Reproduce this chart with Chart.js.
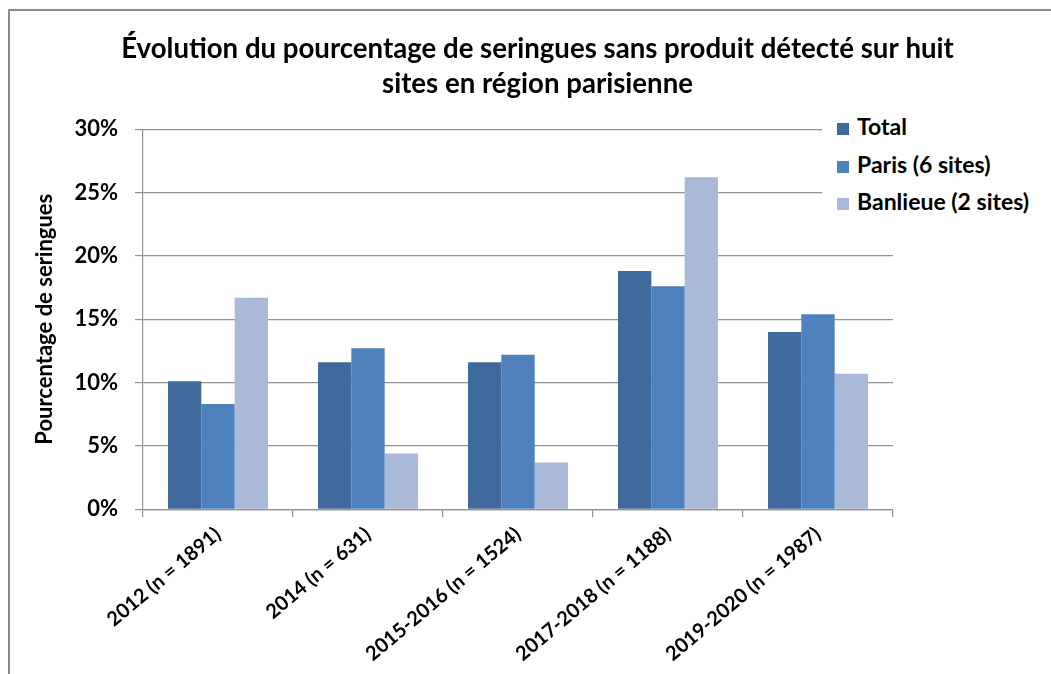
<!DOCTYPE html>
<html lang="fr">
<head>
<meta charset="utf-8">
<title>Seringues sans produit détecté</title>
<script src="https://cdn.jsdelivr.net/npm/chart.js@4.4.1/dist/chart.umd.min.js"></script>
<style>
  html, body { margin: 0; padding: 0; background: #fff; }
  #wrap { position: relative; width: 1051px; height: 674px; overflow: hidden; }
  #frame {
    position: absolute; left: 8px; top: 9px; width: 1100px; height: 700px;
    border-top: 2px solid #8a8a8a; border-left: 2px solid #8a8a8a;
  }
  #chart { position: absolute; left: 0; top: 0; }
  #legend {
    position: absolute; left: 822px; top: 106px; width: 229px; height: 118px;
    background: #fff; font-family: Lato, "Liberation Sans", sans-serif;
    font-weight: bold; font-size: 23px; color: #000;
  }
  .lg-item { position: absolute; left: 15px; height: 26px; line-height: 26px; white-space: nowrap; }
  .lg-box { display: inline-block; width: 12px; height: 12px; margin-right: 8px; vertical-align: 0px; }
</style>
</head>
<body>
<div id="wrap">
  <div id="frame"></div>
  <canvas id="chart" width="1051" height="674"></canvas>
  <div id="legend"></div>
</div>
<script>
// données (en %)
var categories = ['2012 (n = 1891)', '2014 (n = 631)', '2015-2016 (n = 1524)', '2017-2018 (n = 1188)', '2019-2020 (n = 1987)'];
var seriesNames = ['Total', 'Paris (6 sites)', 'Banlieue (2 sites)'];
var totalValues = [10.1, 11.6, 11.6, 18.8, 14.0];
var parisValues = [8.3, 12.7, 12.2, 17.6, 15.4];
var banlieueValues = [16.7, 4.4, 3.7, 26.2, 10.7];
var yTicks = [0, 5, 10, 15, 20, 25, 30];

var colors = ['#416a9c', '#4f81bd', '#aab9d7'];
var fontFamily = 'Lato, "Liberation Sans", sans-serif';
var gridColor = '#929292';

function buildDatasets() {
  var values = [totalValues, parisValues, banlieueValues];
  return seriesNames.map(function (name, i) {
    return {
      label: name,
      data: values[i],
      backgroundColor: colors[i],
      borderWidth: 0,
      categoryPercentage: 0.667,
      barPercentage: 1.0
    };
  });
}

function buildLegend() {
  var el = document.getElementById('legend');
  seriesNames.forEach(function (name, i) {
    var item = document.createElement('div');
    item.className = 'lg-item';
    item.style.top = (7 + i * 37.5) + 'px';
    var box = document.createElement('span');
    box.className = 'lg-box';
    box.style.background = colors[i];
    item.appendChild(box);
    item.appendChild(document.createTextNode(name));
    el.appendChild(item);
  });
}

function initChart() {
  var ctx = document.getElementById('chart').getContext('2d');
  new Chart(ctx, {
    type: 'bar',
    data: { labels: categories, datasets: buildDatasets() },
    options: {
      responsive: false,
      animation: false,
      layout: { padding: { left: 24, right: 0, top: 0, bottom: 0 } },
      plugins: {
        legend: { display: false },
        tooltip: { enabled: false },
        title: {
          display: true,
          text: ['Évolution du pourcentage de seringues sans produit détecté sur huit', 'sites en région parisienne'],
          color: '#000',
          font: { family: fontFamily, size: 27.6, weight: 'bold', lineHeight: 1.27 },
          padding: { top: 32, bottom: 27 }
        }
      },
      scales: {
        y: {
          min: 0,
          max: 30,
          afterBuildTicks: function (scale) {
            scale.ticks = yTicks.map(function (v) { return { value: v }; });
          },
          afterFit: function (scale) { scale.width = 119; },
          ticks: {
            color: '#000',
            padding: 17,
            font: { family: fontFamily, size: 22, weight: 'bold' },
            callback: function (v) { return v + '%'; }
          },
          grid: { color: gridColor, lineWidth: 1.2, tickLength: 8 },
          border: { color: gridColor, width: 1.2 },
          title: {
            display: true,
            text: 'Pourcentage de seringues',
            color: '#000',
            font: { family: fontFamily, size: 22, weight: 'bold' },
            padding: { top: 8, bottom: 0 }
          }
        },
        // axe vide à droite : réserve la place de la légende sans décaler le titre
        yRight: {
          position: 'right',
          display: true,
          afterFit: function (scale) { scale.width = 158; },
          ticks: { display: false },
          grid: { display: false },
          border: { display: false }
        },
        x: {
          afterFit: function (scale) { scale.height = 164.7; },
          ticks: {
            color: '#000',
            minRotation: 40,
            maxRotation: 40,
            padding: 5,
            font: { family: fontFamily, size: 20, weight: 'bold' }
          },
          grid: { display: true, drawOnChartArea: false, color: gridColor, lineWidth: 1.2, tickLength: 8 },
          border: { color: gridColor, width: 1.2 }
        }
      }
    }
  });
}

buildLegend();
initChart();
</script>
</body>
</html>
